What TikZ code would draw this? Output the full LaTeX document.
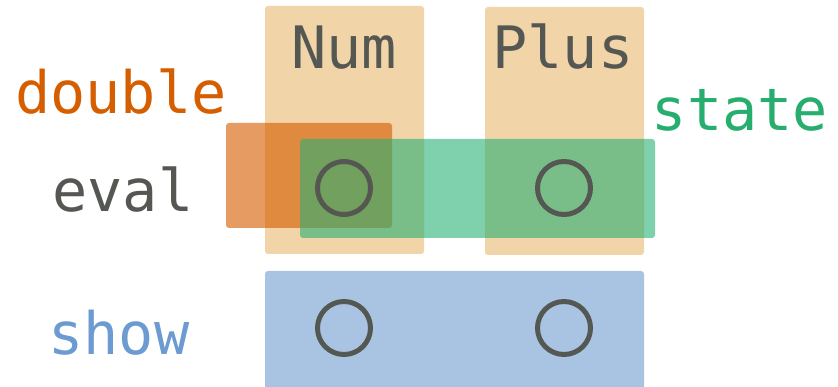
\documentclass[tikz,border=0pt]{standalone}
\usepackage{fontspec}
\newfontfamily\monofont{DejaVu Sans Mono}
\definecolor{tan}{HTML}{F1D4A8}
\definecolor{showblue}{HTML}{A9C4E2}
\definecolor{dblorange}{HTML}{D55E00}
\definecolor{stgreen}{HTML}{2AB074}
\definecolor{inkgray}{HTML}{555753}
\definecolor{bluetext}{HTML}{6C9BD2}
\definecolor{greentext}{HTML}{27AE6E}
\begin{document}
\begin{tikzpicture}[x=1pt,y=-1pt,
  lbl/.style={font=\monofont\fontsize{58.5}{60}\selectfont, inner sep=0pt, anchor=base},
  slot/.style={circle, draw=inkgray, line width=5pt, minimum size=53pt, inner sep=0pt},
  box/.style={rounded corners=3pt}]
\useasboundingbox (0,0) rectangle (838,387);
\clip (0,0) rectangle (838,387);
% columns
\fill[tan, box] (265,6) rectangle (424,254);
\fill[tan, box] (485,7) rectangle (644,255);
% show row
\fill[showblue, box] (265,271) rectangle (644,400);
% double
\fill[dblorange, opacity=0.62, box] (226,123) rectangle (392,228);
% state
\fill[stgreen, opacity=0.6, box] (300,139) rectangle (655,238);
% slots
\node[slot] (ne) at (344,188) {};
\node[slot] (pe) at (564,188) {};
\node[slot] (ns) at (344,328) {};
\node[slot] (ps) at (564,328) {};
% labels
\node[lbl, text=inkgray] (num) at (344,69) {Num};
\node[lbl, text=inkgray] (plus) at (563,69) {Plus};
\node[lbl, text=dblorange] (double) at (121,114) {double};
\node[lbl, text=greentext] (state) at (740,131) {state};
\node[lbl, text=inkgray] (eval) at (123,212) {eval};
\node[lbl, text=bluetext] (show) at (119,354) {show};
\end{tikzpicture}
\end{document}
